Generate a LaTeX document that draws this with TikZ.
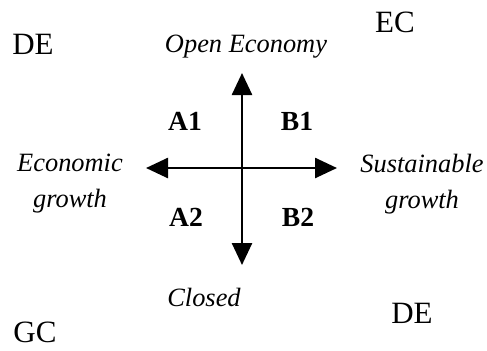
\documentclass[tikz,border=0pt]{standalone}
\usepackage{fontspec}
\setmainfont{Liberation Serif}
\usepackage{tikz}
\usetikzlibrary{arrows.meta,positioning}

\begin{document}
\begin{tikzpicture}[
    x=0.5pt, y=-0.5pt,
    corner/.style={font=\fontsize{15.5}{18}\selectfont},
    axislabel/.style={font=\fontsize{13.2}{18}\selectfont\itshape, align=center},
    quad/.style={font=\fontsize{13.8}{16}\selectfont\bfseries},
    axis/.style={-{Triangle[length=11pt,width=10pt]}, line width=1.3pt}
]
    \useasboundingbox (0,0) rectangle (487,350);

    % Axes
    \coordinate (origin) at (242,168);
    \coordinate (top) at (242,73);
    \coordinate (bottom) at (242,265);
    \coordinate (left) at (146,168);
    \coordinate (right) at (337,168);

    \draw[axis] (origin) -- (top);
    \draw[axis] (origin) -- (bottom);
    \draw[axis] (origin) -- (left);
    \draw[axis] (origin) -- (right);

    % Axis labels
    \node[axislabel] (open) at (246,47) {Open Economy};
    \node[axislabel] (closed) at (204,297) {Closed};
    \node[axislabel] (econ) at (70,184) {Economic\\growth};
    \node[axislabel] (sust) at (422,184) {Sustainable\\growth};

    % Quadrants
    \node[quad] (a1) at (185,121) {A1};
    \node[quad] (b1) at (297,121) {B1};
    \node[quad] (a2) at (186,217) {A2};
    \node[quad] (b2) at (298,217) {B2};

    % Corner tags
    \node[corner] (de1) at (33,44) {DE};
    \node[corner] (ec) at (395,22) {EC};
    \node[corner] (de2) at (412,313) {DE};
    \node[corner] (gc) at (35,332) {GC};
\end{tikzpicture}
\end{document}
